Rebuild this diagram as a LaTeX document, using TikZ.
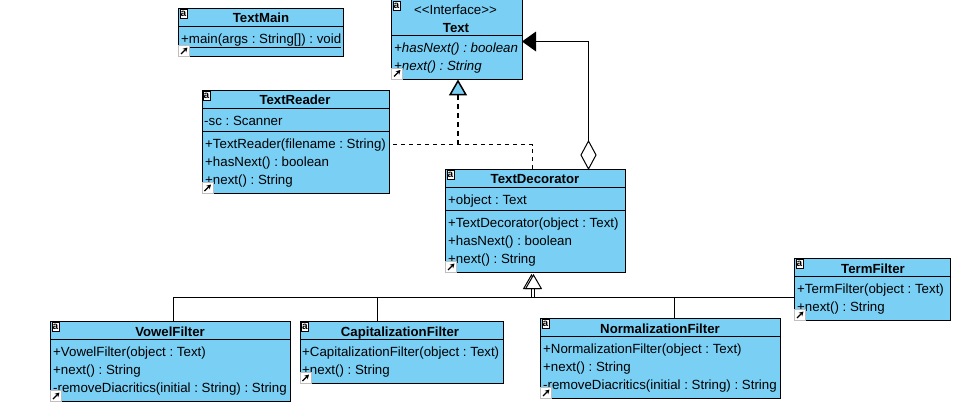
\documentclass[tikz,border=0pt]{standalone}
\usepackage{fontspec}
\setmainfont{Liberation Sans}
\usetikzlibrary{arrows.meta}
\usetikzlibrary{shapes.geometric}
\definecolor{classblue}{RGB}{122,207,245}
\frenchspacing
\tikzset{
  compart/.style={draw=black, fill=classblue, line width=1pt, inner sep=0pt, outer sep=0pt, anchor=north west},
  classname/.style={font=\fontsize{13.2}{15}\selectfont\bfseries, inner sep=0pt, anchor=base},
  member/.style={font=\fontsize{13.3}{15}\selectfont, inner sep=0pt, anchor=base west},
  abstractmember/.style={member, font=\fontsize{13.3}{15}\selectfont\itshape},
  tagbox/.style={fill=white, draw=black, line width=.8pt, inner sep=0pt, outer sep=0pt, minimum width=7pt, minimum height=9pt, font=\fontsize{10}{10}\selectfont\bfseries, anchor=north west},
  linkbox/.style={fill=white, draw=black!25, line width=.8pt, inner sep=0pt, outer sep=0pt, minimum size=11pt, anchor=south west,
    path picture={\draw[draw=black, fill=black, line width=1.2pt, -{Stealth[length=4.5pt, width=5pt]}] ([shift={(2.5pt,2.5pt)}]path picture bounding box.south west) -- ([shift={(-2pt,-2pt)}]path picture bounding box.north east);}},
  conn/.style={draw=black, line width=1pt},
  realize/.style={conn, dash pattern=on 4pt off 4pt},
}
\begin{document}
\begin{tikzpicture}[x=1pt, y=-1pt]
  \useasboundingbox (0,0) rectangle (959,407);

  % TextMain
  \node[compart, minimum width=165pt, minimum height=18pt] (mainhead) at (178.5,8.5) {};
  \node[compart, minimum width=165pt, minimum height=30pt] (mainops) at (178.5,26.5) {};
  \node[classname] (mainname) at (261,22) {TextMain};
  \node[member] (mainop) at (181,43) {\underline{+main(args : String[]) : void}};
  \node[tagbox] (maintag) at (180,9.5) {a};
  \node[linkbox] (mainlink) at (178.5,56.5) {};

  % Text
  \node[compart, minimum width=131pt, minimum height=36pt] (texthead) at (391.5,-1) {};
  \node[compart, minimum width=131pt, minimum height=44pt] (textops) at (391.5,35) {};
  \node[member, anchor=base] (textstereo) at (455.5,14) {{<}{<}Interface{>}{>}};
  \node[classname] (textname) at (456,32) {Text};
  \node[abstractmember] (textop1) at (394,52) {+hasNext() : boolean};
  \node[abstractmember] (textop2) at (394,70) {+next() : String};
  \node[tagbox] (texttag) at (393,1) {a};
  \node[linkbox] (textlink) at (391.5,79) {};

  % TextReader
  \node[compart, minimum width=187pt, minimum height=18pt] (readerhead) at (202,90.5) {};
  \node[compart, minimum width=187pt, minimum height=23pt] (readerattr) at (202,108.5) {};
  \node[compart, minimum width=187pt, minimum height=62pt] (readerops) at (202,131.5) {};
  \node[classname] (readername) at (295,104) {TextReader};
  \node[member] (readerat) at (204,125) {-sc : Scanner};
  \node[member] (readerop1) at (205,148) {+TextReader(filename : String)};
  \node[member] (readerop2) at (205,166) {+hasNext() : boolean};
  \node[member] (readerop3) at (205,184) {+next() : String};
  \node[tagbox] (readertag) at (203,91.5) {a};
  \node[linkbox] (readerlink) at (202,193.5) {};

  % TextDecorator
  \node[compart, minimum width=180pt, minimum height=18pt] (decohead) at (445.5,169.5) {};
  \node[compart, minimum width=180pt, minimum height=23pt] (decoattr) at (445.5,187.5) {};
  \node[compart, minimum width=180pt, minimum height=62pt] (decoops) at (445.5,210.5) {};
  \node[classname] (deconame) at (535,183) {TextDecorator};
  \node[member] (decoat) at (448,204) {+object : Text};
  \node[member] (decoop1) at (448,227) {+TextDecorator(object : Text)};
  \node[member] (decoop2) at (448,245) {+hasNext() : boolean};
  \node[member] (decoop3) at (448,263) {+next() : String};
  \node[tagbox] (decotag) at (447,170.5) {a};
  \node[linkbox] (decolink) at (445.5,272.5) {};

  % VowelFilter
  \node[compart, minimum width=240pt, minimum height=18pt] (vowelhead) at (50.5,321.5) {};
  \node[compart, minimum width=240pt, minimum height=62pt] (vowelops) at (50.5,339.5) {};
  \node[classname] (vowelname) at (170,336) {VowelFilter};
  \node[member] (vowelop1) at (53,356) {+VowelFilter(object : Text)};
  \node[member] (vowelop2) at (53,374) {+next() : String};
  \node[member] (vowelop3) at (53,392) {-removeDiacritics(initial : String) : String};
  \node[tagbox] (voweltag) at (52,322.5) {a};
  \node[linkbox] (vowellink) at (50.5,401.5) {};

  % CapitalizationFilter
  \node[compart, minimum width=203pt, minimum height=18pt] (caphead) at (300,321.5) {};
  \node[compart, minimum width=203pt, minimum height=44pt] (capops) at (300,339.5) {};
  \node[classname] (capname) at (400,336) {CapitalizationFilter};
  \node[member] (capop1) at (302,356) {+CapitalizationFilter(object : Text)};
  \node[member] (capop2) at (302,374) {+next() : String};
  \node[tagbox] (captag) at (301.5,322.5) {a};
  \node[linkbox] (caplink) at (300,383.5) {};

  % NormalizationFilter
  \node[compart, minimum width=240pt, minimum height=18pt] (normhead) at (540.5,318.5) {};
  \node[compart, minimum width=240pt, minimum height=62pt] (normops) at (540.5,336.5) {};
  \node[classname] (normname) at (660,333) {NormalizationFilter};
  \node[member] (normop1) at (543,353) {+NormalizationFilter(object : Text)};
  \node[member] (normop2) at (543,371) {+next() : String};
  \node[member] (normop3) at (543,389) {-removeDiacritics(initial : String) : String};
  \node[tagbox] (normtag) at (542,319.5) {a};
  \node[linkbox] (normlink) at (540.5,398.5) {};

  % TermFilter
  \node[compart, minimum width=156pt, minimum height=18pt] (termhead) at (794.5,258.5) {};
  \node[compart, minimum width=156pt, minimum height=44pt] (termops) at (794.5,276.5) {};
  \node[classname] (termname) at (873,273) {TermFilter};
  \node[member] (termop1) at (797,293) {+TermFilter(object : Text)};
  \node[member] (termop2) at (797,311) {+next() : String};
  \node[tagbox] (termtag) at (796,259.5) {a};
  \node[linkbox] (termlink) at (794.5,320.5) {};

  % connectors
  \coordinate (treeleft) at (173.5,297.5);
  \coordinate (treecap) at (377.5,297.5);
  \coordinate (treenorm) at (674.5,297.5);
  \coordinate (realjoin) at (458,144.5);
  \coordinate (realcorner) at (532.5,144.5);
  \coordinate (aggcorner) at (588.5,41.5);
  \node[diamond, draw=black, fill=white, line width=1pt, inner sep=0pt, outer sep=0pt, minimum width=15pt, minimum height=28pt] (aggdiamond) at (588.5,155) {};
  \node[regular polygon, regular polygon sides=3, draw=black, fill=classblue, line width=1.5pt, inner sep=0pt, outer sep=0pt, minimum size=18pt] (realtip) at (458,90) {};
  \node[regular polygon, regular polygon sides=3, draw=black, fill=white, line width=1pt, inner sep=0pt, outer sep=0pt, minimum size=18pt] (gentipback) at (531.5,284) {};
  \node[regular polygon, regular polygon sides=3, draw=black, fill=white, line width=1pt, inner sep=0pt, outer sep=0pt, minimum size=18pt] (gentip) at (533.5,284) {};

  \draw[conn] (termops.west |- treeleft) -- (treeleft) -- (vowelhead.north -| treeleft);
  \draw[conn] (caphead.north -| treecap) -- (treecap);
  \draw[conn] (normhead.north -| treenorm) -- (treenorm);
  \draw[conn] (531.5,297.5) -- (531.5,289);
  \draw[conn] (534.5,297.5) -- (534.5,289);
  \draw[realize, dash phase=4pt] (readerops.east |- realjoin) -- (realcorner) -- (decohead.north -| realcorner);
  \draw[realize, line width=2pt, dash pattern=on 5pt off 4pt] (realjoin) -- (realtip.south);
  \draw[conn] (aggdiamond.north) -- (aggcorner) -- (textops.east |- aggcorner);
  \fill (522,41.5) -- (536,31.5) -- (536,51.5) -- cycle;
\end{tikzpicture}
\end{document}
